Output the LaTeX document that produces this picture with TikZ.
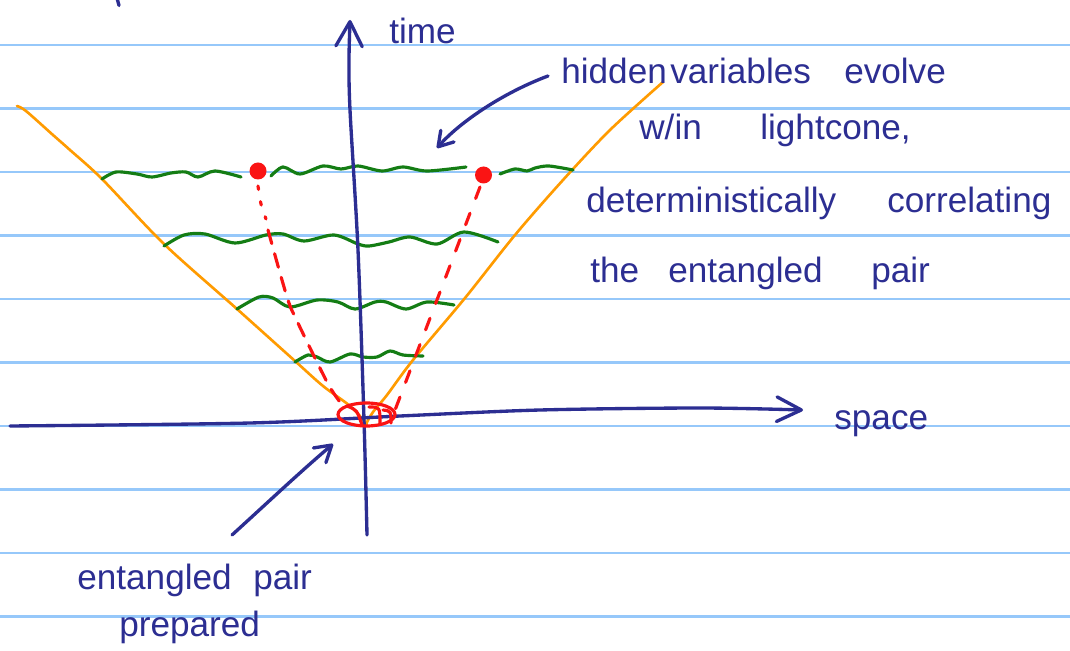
\documentclass[tikz,border=0pt]{standalone}
\usepackage{fontspec}
\setmainfont{Liberation Sans}
\usetikzlibrary{arrows.meta}
\definecolor{ink}{RGB}{44,46,146}
\definecolor{rule}{RGB}{150,200,250}
\definecolor{wave}{RGB}{20,125,20}
\definecolor{cone}{RGB}{255,155,0}
\definecolor{pen}{RGB}{250,20,20}
\newlength\pxu
\setlength\pxu{0.02cm}
\tikzset{
  hand/.style={font=\fontsize{20}{24}\selectfont, text=ink, inner sep=0pt, anchor=base west},
  inkline/.style={draw=ink, line width=1.9pt, line cap=round, line join=round},
  ruleline/.style={draw=rule, line width=1.3pt},
  waveline/.style={draw=wave, line width=1.8pt, line cap=round, line join=round},
  coneline/.style={draw=cone, line width=1.5pt, line cap=round, line join=round},
  redline/.style={draw=pen, line width=1.8pt, line cap=round},
}
\begin{document}
\begin{tikzpicture}[x=0.02cm,y=-0.02cm]
\useasboundingbox (0,0) rectangle (1070,651);
\fill[white] (0,0) rectangle (1070,651);
% ruled paper
\foreach \k in {0,...,9} {
  \draw[ruleline] (0,{45+63.5*\k}) -- (1070,{45+63.5*\k});
}
% stray mark at top
\draw[inkline] (117.5,0) -- (119,5.5);
% light cone
\draw[coneline] plot[smooth] coordinates {(17,106) (26,111) (53,135) (70,150) (102,179) (164,244) (237,309) (295,361) (323,386) (350,406) (367,424)};
\draw[coneline] plot[smooth] coordinates {(366,424) (373,412) (387,395) (413,360) (465,298) (515,235) (563,180) (610,130) (663,82)};
% green wavy lines
\draw[waveline] plot[smooth] coordinates {(102,179) (116,172) (137,174) (152,177) (171,173) (186,172) (198,177) (215,171) (241,177)};
\draw[waveline] plot[smooth] coordinates {(271,176) (283,167) (300,174) (323,166) (341,169) (358,166) (382,171) (403,167) (427,171) (466,167)};
\draw[waveline] plot[smooth] coordinates {(500,174) (515,169) (527,171) (535,168) (549,166) (573,170)};
\draw[waveline] plot[smooth] coordinates {(164,246) (184,235) (205,234) (235,243) (266,235) (283,234) (304,241) (334,235) (358,244) (369,246) (389,242) (410,237) (437,244) (464,232) (498,242)};
\draw[waveline] plot[smooth] coordinates {(237,309) (259,297) (273,298) (290,307) (317,300) (338,302) (355,309) (375,302) (386,302) (406,309) (427,302) (454,305)};
\draw[waveline] plot[smooth] coordinates {(295,362) (308,355) (317,357) (330,362) (350,354) (363,357) (377,357) (390,351) (403,355) (423,356)};
% hidden variable dots
\fill[pen] (258,171) circle [radius=8.5];
\fill[pen] (483.5,175) circle [radius=8.5];
% dashed world lines
\draw[redline, dash pattern=on 2pt off 7pt] plot[smooth] coordinates {(258,186) (261,204) (266,219)};
\draw[redline, dash pattern=on 8pt off 6pt] plot[smooth] coordinates {(268,230) (287,297) (297,321) (327,382) (340,402)};
\draw[redline, dash pattern=on 7pt off 9pt] (480,187) -- (392,418);
% axes
\draw[inkline, -{Straight Barb[length=14pt,width=15pt,round]}] plot[smooth] coordinates {(367,535) (364,420) (358,250) (350,110) (349,60) (350,20)};
\draw[inkline, -{Straight Barb[length=14pt,width=14pt,round]}] plot[smooth] coordinates {(10,426) (250,423) (400,416) (540,410) (700,408) (803,410)};
% preparation ellipse
\draw[redline] (366.5,414.5) ellipse [x radius=28.5, y radius=11.5];
\draw[redline] (347,406) .. controls (357,410) .. (362,425);
\draw[redline] (369,407) .. controls (380,407) .. (380,424);
\draw[redline] (383,410) .. controls (391,411) .. (391,423);
% labels
\node[hand] (tm) at (389,44) {time};
\node[hand] (sp) at (834,429) {space};
\node[hand] (hv) at (561,84) {\makebox[109\pxu][l]{hidden}\makebox[174\pxu][l]{variables}evolve};
\node[hand] (wl) at (639,140) {\makebox[121\pxu][l]{w/in}lightcone,};
\node[hand] (dc) at (586,213) {\makebox[301\pxu][l]{deterministically}correlating};
\node[hand] (tp) at (590,283) {\makebox[78\pxu][l]{the}\makebox[203\pxu][l]{entangled}pair};
\node[hand] (ep) at (77,589) {\makebox[176\pxu][l]{entangled}pair};
\node[hand] (pr) at (119,636) {prepared};
% pointer arrows
\coordinate (hvtail) at (548,76);
\coordinate (hvtip) at (437,148);
\coordinate (eptail) at (232,535);
\coordinate (eptip) at (333,444);
\draw[inkline, -{Straight Barb[length=8pt,width=10pt,round]}] (hvtail) .. controls (500,94) and (458,124) .. (hvtip);
\draw[inkline, -{Straight Barb[length=9pt,width=11pt,round]}] (eptail) .. controls (265,505) and (300,472) .. (eptip);
\end{tikzpicture}
\end{document}
